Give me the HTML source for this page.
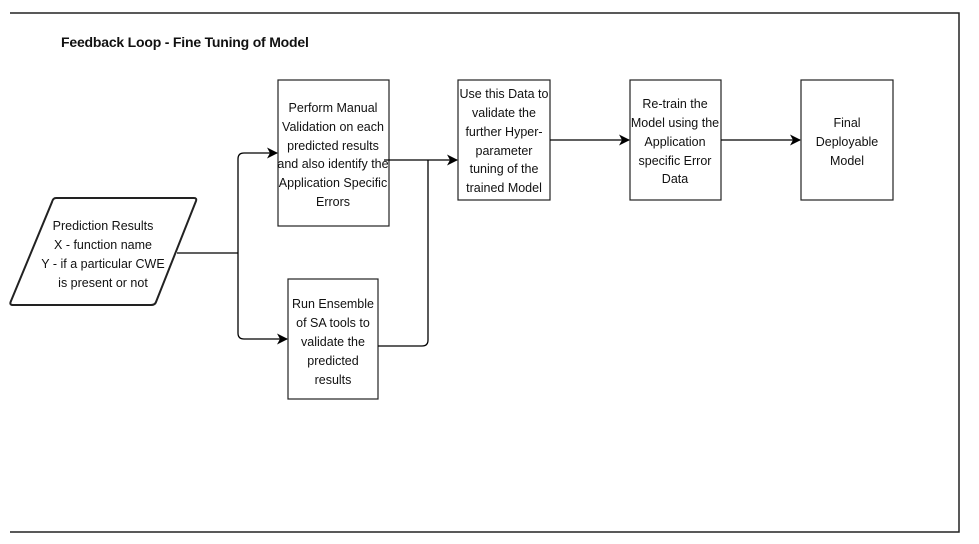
<!DOCTYPE html>
<html><head><meta charset="utf-8"><style>
body{margin:0;background:#fff;width:979px;height:544px;overflow:hidden}
svg{position:absolute;left:0;top:0}
text{font-family:"Liberation Sans",sans-serif;font-size:12.5px;fill:#111}
</style></head><body>
<svg width="979" height="544" viewBox="0 0 979 544">
<defs><marker id="a" markerWidth="11" markerHeight="11" refX="10" refY="5.5" orient="auto" markerUnits="userSpaceOnUse"><path d="M0,0 L11,5.5 L0,11 L3,5.5 Z" fill="#000"/></marker></defs>
<g stroke="#222" stroke-width="1.5" fill="none">
<path d="M10,13 H959 V532 H10"/>
</g>
<text x="61" y="47" style="font-size:14px;font-weight:bold;letter-spacing:-0.2px">Feedback Loop - Fine Tuning of Model</text>
<g stroke="#222" stroke-width="1.2" fill="#fff">
<path d="M56,198 H194 Q197,198 196,201 L156,302 Q155,305 151,305 H13 Q9,305 11,301 L52,202 Q53,198 56,198 Z" stroke-width="2"/>
<rect x="278" y="80" width="111" height="146"/>
<rect x="288" y="279" width="90" height="120"/>
<rect x="458" y="80" width="92" height="120"/>
<rect x="630" y="80" width="91" height="120"/>
<rect x="801" y="80" width="92" height="120"/>
</g>
<g stroke="#000" stroke-width="1.3" fill="none">
<path d="M177,253 H238"/>
<path d="M238,253 V159 Q238,153 244,153 H277" marker-end="url(#a)"/>
<path d="M238,253 V333 Q238,339 244,339 H287" marker-end="url(#a)"/>
<path d="M384,160 H457" marker-end="url(#a)"/>
<path d="M378,346 H422 Q428,346 428,340 V160"/>
<path d="M550,140 H629" marker-end="url(#a)"/>
<path d="M721,140 H800" marker-end="url(#a)"/>
</g>
<g text-anchor="middle">
<text x="103" y="230">Prediction Results</text>
<text x="103" y="249">X - function name</text>
<text x="103" y="268">Y - if a particular CWE</text>
<text x="103" y="287">is present or not</text>
<text x="333" y="112">Perform Manual</text>
<text x="333" y="131">Validation on each</text>
<text x="333" y="150">predicted results</text>
<text x="333" y="168">and also identify the</text>
<text x="333" y="187">Application Specific</text>
<text x="333" y="206">Errors</text>
<text x="333" y="308">Run Ensemble</text>
<text x="333" y="327">of SA tools to</text>
<text x="333" y="346">validate the</text>
<text x="333" y="365">predicted</text>
<text x="333" y="384">results</text>
<text x="504" y="98">Use this Data to</text>
<text x="504" y="117">validate the</text>
<text x="504" y="136">further Hyper-</text>
<text x="504" y="155">parameter</text>
<text x="504" y="173">tuning of the</text>
<text x="504" y="192">trained Model</text>
<text x="675" y="108">Re-train the</text>
<text x="675" y="127">Model using the</text>
<text x="675" y="146">Application</text>
<text x="675" y="165">specific Error</text>
<text x="675" y="183">Data</text>
<text x="847" y="127">Final</text>
<text x="847" y="146">Deployable</text>
<text x="847" y="165">Model</text>
</g>
</svg>
</body></html>
